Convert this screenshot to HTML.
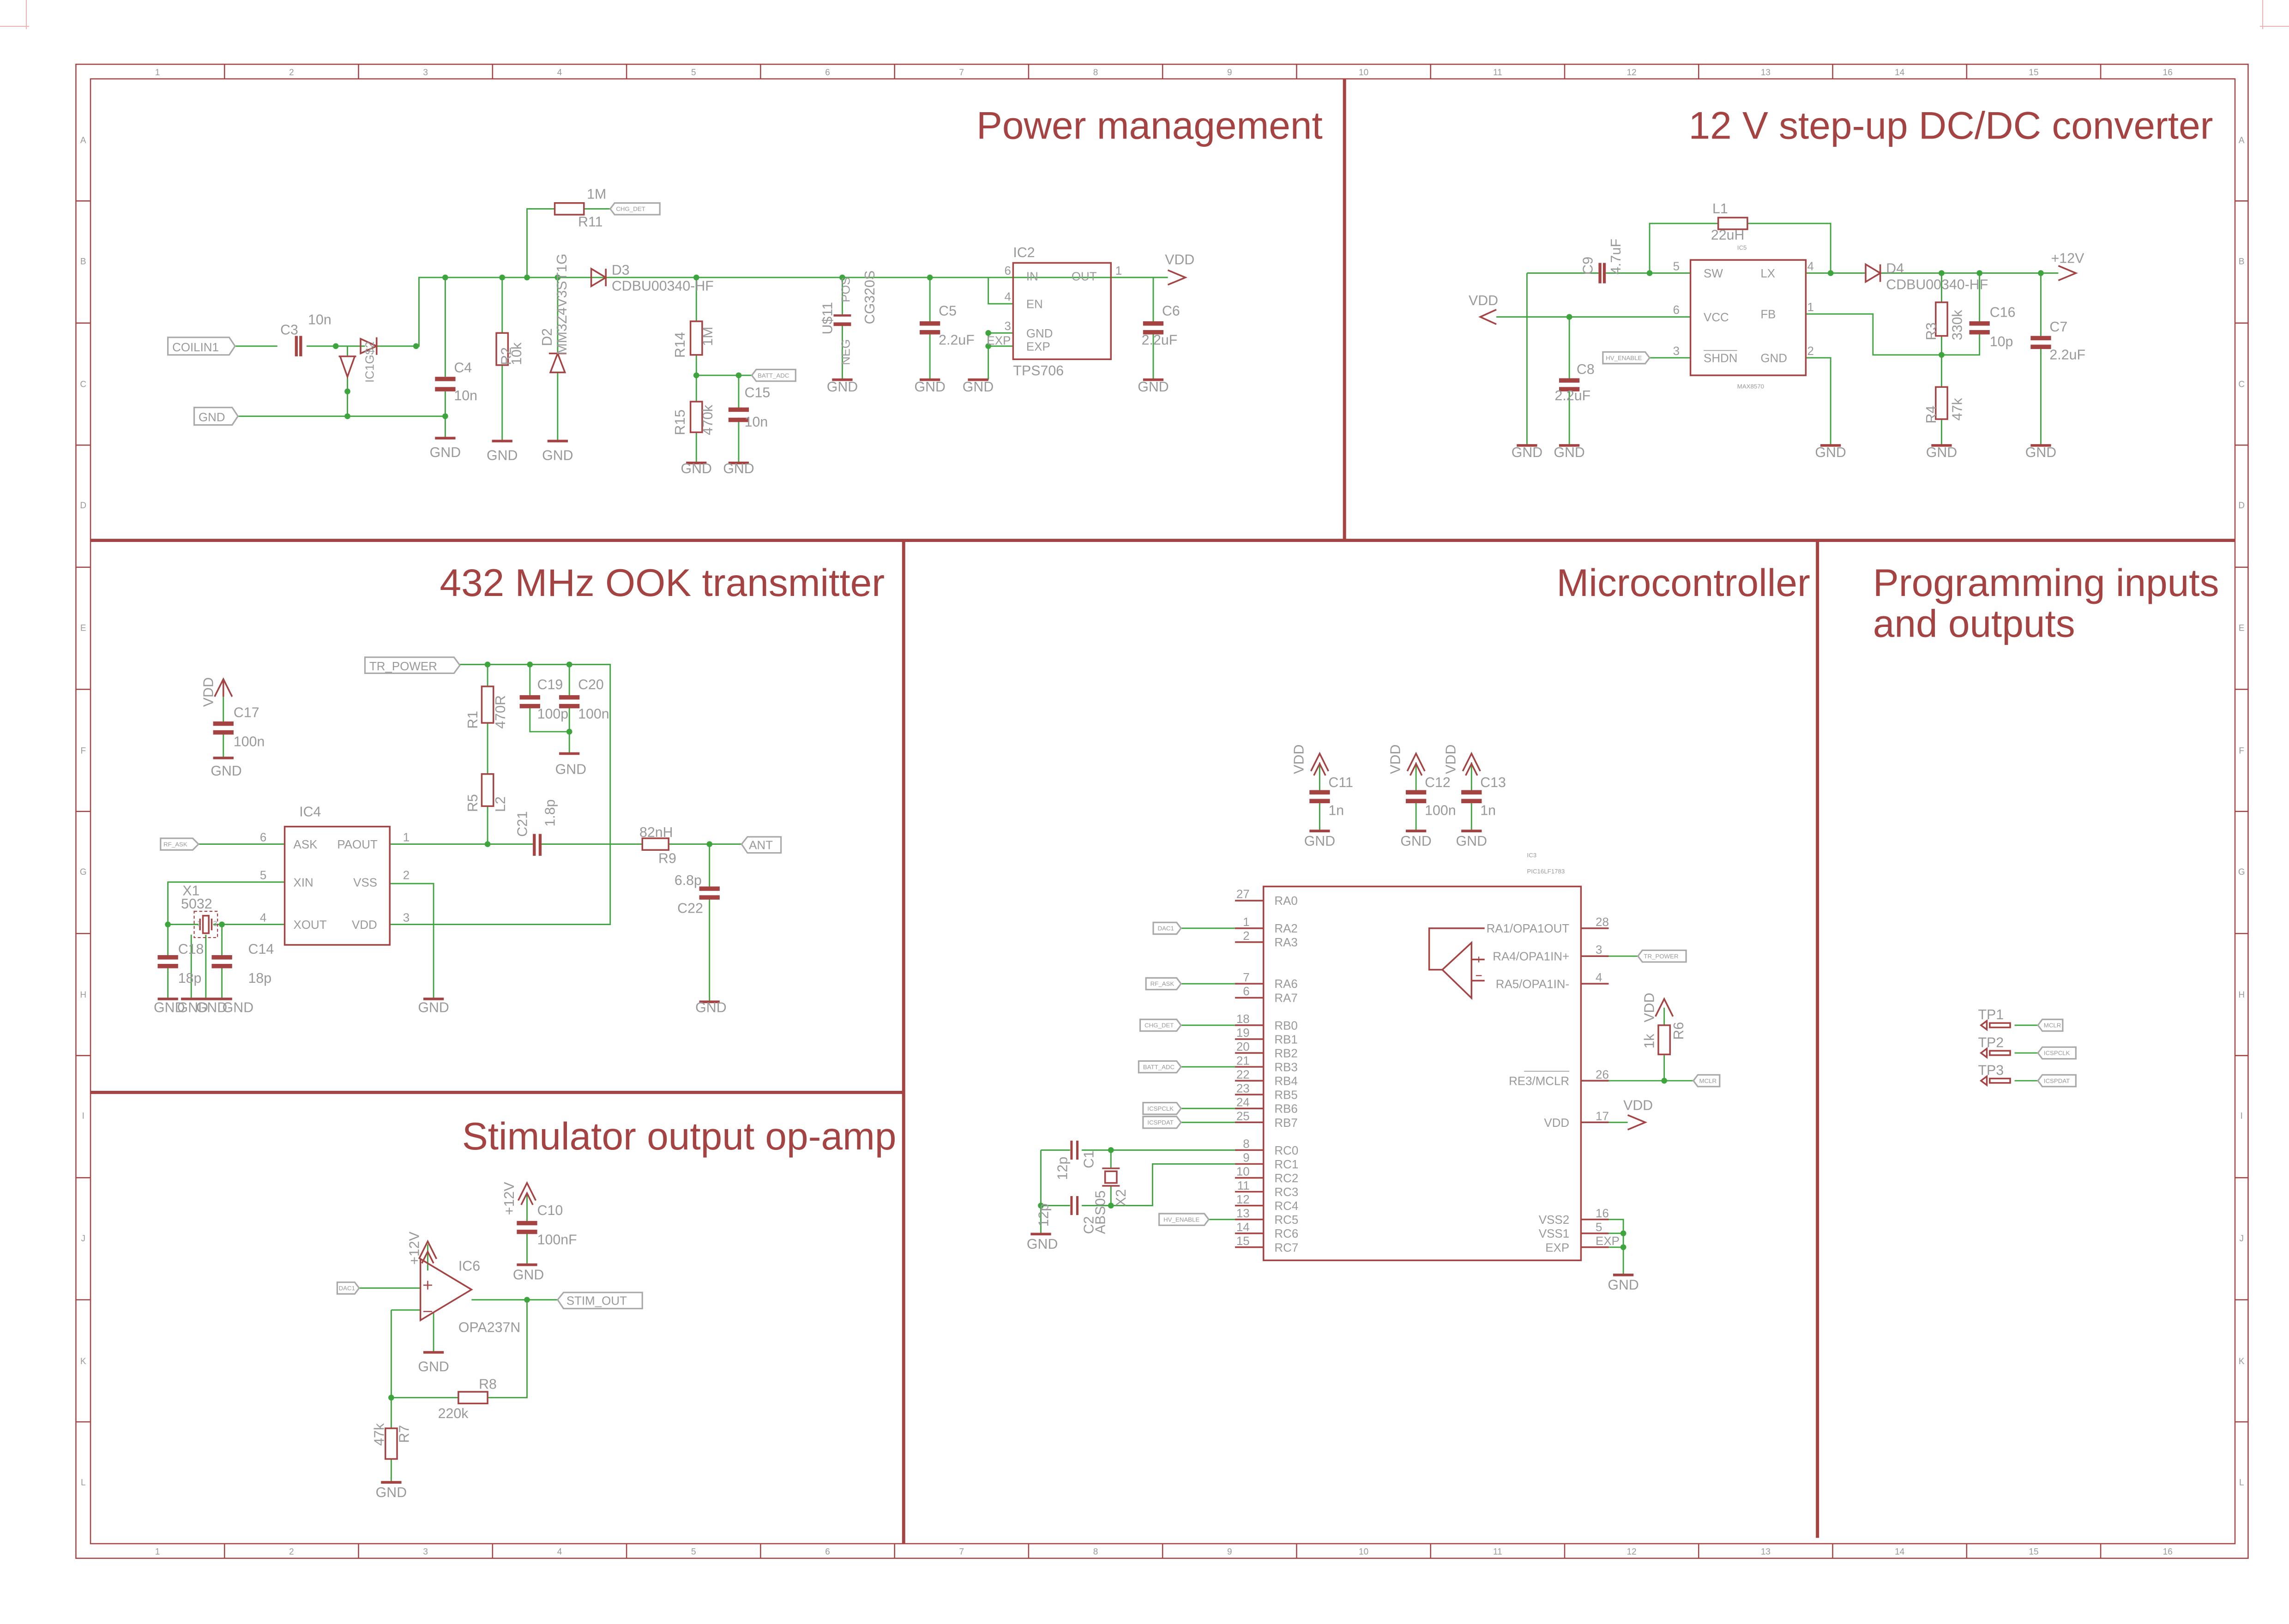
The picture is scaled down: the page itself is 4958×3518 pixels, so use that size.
<!DOCTYPE html>
<html><head><meta charset="utf-8"><style>
html,body{margin:0;padding:0;background:#fff}
svg{display:block}
.w{stroke:#3ea53e;stroke-width:0.9;fill:none}
.p{stroke:#a54343;stroke-width:1.1;fill:none}
.pt{stroke:#a54343;stroke-width:2.2;fill:none}
.fr{stroke:#a54343;stroke-width:0.8;fill:none}
.lb{stroke:#a8a8a8;stroke-width:1;fill:#fff}
.pf{fill:#a54343}
.d{fill:#3ea53e}
text{font-family:"Liberation Sans",sans-serif;fill:#999}
.t{font-size:9.6px}
.s{font-size:4.2px}
.m{font-size:8.2px}
.h{font-size:26.5px;fill:#a54343}
.f{font-size:6px;fill:#a54343}
</style></head><body>
<svg width="4958" height="3518" viewBox="0 0 1568 1112" preserveAspectRatio="none" xmlns="http://www.w3.org/2000/svg">
<rect width="1568" height="1112" fill="#fff"/>
<path d="M0 18H20M18 0V20M1548 18H1568M1550 0V20" stroke="#e8b0b0" stroke-width="0.6"/>
<rect x="52" y="44" width="1488" height="1023" class="fr"/>
<rect x="62" y="54" width="1469" height="1003" class="fr"/>
<g class="fr">
<path d="M153.8 44V54M245.6 44V54M337.4 44V54M429.2 44V54M521 44V54M612.8 44V54M704.6 44V54M796.4 44V54M888.2 44V54M980 44V54M1071.8 44V54M1163.6 44V54M1255.4 44V54M1347.2 44V54M1439 44V54"/>
<path d="M153.8 1057V1067M245.6 1057V1067M337.4 1057V1067M429.2 1057V1067M521 1057V1067M612.8 1057V1067M704.6 1057V1067M796.4 1057V1067M888.2 1057V1067M980 1057V1067M1071.8 1057V1067M1163.6 1057V1067M1255.4 1057V1067M1347.2 1057V1067M1439 1057V1067"/>
<path d="M52 137.6H62M52 221.2H62M52 304.8H62M52 388.4H62M52 472H62M52 555.6H62M52 639.2H62M52 722.8H62M52 806.4H62M52 890H62M52 973.6H62"/>
<path d="M1531 137.6H1540M1531 221.2H1540M1531 304.8H1540M1531 388.4H1540M1531 472H1540M1531 555.6H1540M1531 639.2H1540M1531 722.8H1540M1531 806.4H1540M1531 890H1540M1531 973.6H1540"/>
</g>
<g class="f" text-anchor="middle">
<text x="107.9" y="51.5">1</text><text x="199.7" y="51.5">2</text><text x="291.5" y="51.5">3</text><text x="383.3" y="51.5">4</text><text x="475.1" y="51.5">5</text><text x="566.9" y="51.5">6</text><text x="658.7" y="51.5">7</text><text x="750.5" y="51.5">8</text><text x="842.3" y="51.5">9</text><text x="934.1" y="51.5">10</text><text x="1025.9" y="51.5">11</text><text x="1117.7" y="51.5">12</text><text x="1209.5" y="51.5">13</text><text x="1301.3" y="51.5">14</text><text x="1393.1" y="51.5">15</text><text x="1484.9" y="51.5">16</text>
<text x="107.9" y="1064.5">1</text><text x="199.7" y="1064.5">2</text><text x="291.5" y="1064.5">3</text><text x="383.3" y="1064.5">4</text><text x="475.1" y="1064.5">5</text><text x="566.9" y="1064.5">6</text><text x="658.7" y="1064.5">7</text><text x="750.5" y="1064.5">8</text><text x="842.3" y="1064.5">9</text><text x="934.1" y="1064.5">10</text><text x="1025.9" y="1064.5">11</text><text x="1117.7" y="1064.5">12</text><text x="1209.5" y="1064.5">13</text><text x="1301.3" y="1064.5">14</text><text x="1393.1" y="1064.5">15</text><text x="1484.9" y="1064.5">16</text>
<text x="57" y="98">A</text><text x="57" y="181">B</text><text x="57" y="265">C</text><text x="57" y="348">D</text><text x="57" y="432">E</text><text x="57" y="516">F</text><text x="57" y="599">G</text><text x="57" y="683">H</text><text x="57" y="766">I</text><text x="57" y="850">J</text><text x="57" y="934">K</text><text x="57" y="1017">L</text>
<text x="1535.5" y="98">A</text><text x="1535.5" y="181">B</text><text x="1535.5" y="265">C</text><text x="1535.5" y="348">D</text><text x="1535.5" y="432">E</text><text x="1535.5" y="516">F</text><text x="1535.5" y="599">G</text><text x="1535.5" y="683">H</text><text x="1535.5" y="766">I</text><text x="1535.5" y="850">J</text><text x="1535.5" y="934">K</text><text x="1535.5" y="1017">L</text>
</g>
<path class="pt" d="M62 370H1531M921 54V370M619 370V1057M62 748H619M1245 370V1053"/>
<text class="h" x="906" y="95" text-anchor="end">Power management</text>
<text class="h" x="1516" y="95" text-anchor="end">12 V step-up DC/DC converter</text>
<text class="h" x="606" y="408" text-anchor="end">432 MHz OOK transmitter</text>
<text class="h" x="1240" y="408" text-anchor="end">Microcontroller</text>
<text class="h" x="1283" y="408">Programming inputs</text>
<text class="h" x="1283" y="436">and outputs</text>
<text class="h" x="614" y="787" text-anchor="end">Stimulator output op-amp</text>

<!-- POWER MANAGEMENT -->
<g class="w">
<path d="M160 237H190M210 237H250M258 237H287V190H800"/>
<path d="M238 237V244M238 258V285M163 285H305"/>
<path d="M305 190V258M305 268V300"/>
<path d="M344 190V228M344 250V302"/>
<path d="M361 190V143H380M400 143H418"/>
<path d="M382 190V242M382 255V302"/>
<path d="M477 190V220M477 243V275M477 296V317M477 257H515M506 257V281M506 286V317"/>
<path d="M577 190V216M577 222V260"/>
<path d="M637 190V222M637 227V260"/>
<path d="M677 190V208H694M677 228H694M677 237H694M677 228V260"/>
<path d="M761 190H800M790 190V222M790 227V260"/>
</g>
<g class="d">
<circle cx="230" cy="237" r="2"/><circle cx="285" cy="237" r="2"/><circle cx="238" cy="268" r="2"/><circle cx="238" cy="285" r="2"/><circle cx="305" cy="285" r="2"/>
<circle cx="305" cy="190" r="2"/><circle cx="344" cy="190" r="2"/><circle cx="361" cy="190" r="2"/><circle cx="382" cy="190" r="2"/><circle cx="477" cy="190" r="2"/><circle cx="577" cy="190" r="2"/><circle cx="637" cy="190" r="2"/><circle cx="477" cy="257" r="2"/><circle cx="506" cy="257" r="2"/><circle cx="677" cy="228" r="2"/><circle cx="677" cy="237" r="2"/>
</g>
<path class="lb" d="M115 231H157L161 237L157 243H115Z"/><text class="m" x="118" y="240.5">COILIN1</text>
<path class="lb" d="M133 279H159L163 285L159 291H133Z"/><text class="m" x="136" y="288.5">GND</text>
<path class="lb" d="M418 143L421 139H452V147H421Z"/><text class="s" x="422" y="144.5">CHG_DET</text>
<path class="lb" d="M515 257L518 253H545V261H518Z"/><text class="s" x="519" y="258.5">BATT_ADC</text>
<g class="p">
<path d="M203 230V244M206 230V244" stroke-width="2"/>
<path d="M247 232V242L258 237Z M258 231V243"/>
<path d="M238 258L233 244H243Z M232 244H244"/>
<rect x="340" y="228" width="8" height="22"/>
<rect x="380" y="139" width="20" height="8"/>
<path d="M382 242L377 255H387Z M376 242H388"/>
<path d="M405 184V196L415 190Z M415 184V196"/>
<rect x="473" y="220" width="8" height="23"/>
<rect x="473" y="275" width="8" height="21"/>
<path d="M571 216H583" stroke-width="1.5"/>
<path d="M571 222H583" stroke-width="2.5"/>
<rect x="694" y="180" width="67" height="66"/>
<path d="M800 185L812 190L800 195"/>
</g>
<g class="pf">
<rect x="298" y="258" width="14" height="3"/><rect x="298" y="265" width="14" height="3"/>
<rect x="499" y="279" width="14" height="3"/><rect x="499" y="286" width="14" height="3"/>
<rect x="630" y="220" width="14" height="3"/><rect x="630" y="226" width="14" height="3"/>
<rect x="783" y="220" width="14" height="3"/><rect x="783" y="226" width="14" height="3"/>
</g>
<g class="p">
<path d="M298 300H312M337 302H351M375 302H389M470 317H484M499 317H513M570 260H584M630 260H644M663 260H677M783 260H797" stroke-width="1.8"/>
</g>
<g class="t" text-anchor="middle">
<text x="305" y="313">GND</text><text x="344" y="315">GND</text><text x="382" y="315">GND</text><text x="477" y="324">GND</text><text x="506" y="324">GND</text><text x="577" y="268">GND</text><text x="637" y="268">GND</text><text x="670" y="268">GND</text><text x="790" y="268">GND</text>
</g>
<g class="t">
<text x="192" y="229">C3</text><text x="211" y="222">10n</text>
<text x="311" y="255">C4</text><text x="311" y="274">10n</text>
<text x="402" y="136">1M</text><text x="396" y="155">R11</text>
<text x="419" y="188">D3</text><text x="419" y="199">CDBU00340-HF</text>
<text x="643" y="216">C5</text><text x="643" y="236">2.2uF</text>
<text x="694" y="176">IC2</text><text x="694" y="257">TPS706</text>
<text x="796" y="216">C6</text><text x="782" y="236">2.2uF</text>
<text x="798" y="181">VDD</text>
<text x="510" y="272">C15</text><text x="510" y="292">10n</text>
</g>
<g class="t">
<text transform="translate(350,250) rotate(-90)">R2</text>
<text transform="translate(357,250) rotate(-90)">10k</text>
<text transform="translate(378,237) rotate(-90)">D2</text>
<text transform="translate(388,243) rotate(-90)">MM3Z4V3ST1G</text>
<text transform="translate(469,245) rotate(-90)">R14</text>
<text transform="translate(488,237) rotate(-90)">1M</text>
<text transform="translate(469,298) rotate(-90)">R15</text>
<text transform="translate(488,298) rotate(-90)">470k</text>
<text transform="translate(570,229) rotate(-90)">U$11</text>
<text transform="translate(599,222) rotate(-90)">CG320S</text>
</g>
<g class="m">
<text transform="translate(256,262) rotate(-90)">IC1G$2</text>
<text transform="translate(582,207) rotate(-90)">POS</text>
<text transform="translate(582,250) rotate(-90)">NEG</text>
<text x="703" y="192">IN</text><text x="734" y="192">OUT</text><text x="703" y="211">EN</text><text x="703" y="231">GND</text><text x="703" y="240">EXP</text>
<text x="688" y="188">6</text><text x="688" y="206">4</text><text x="688" y="226">3</text><text x="676" y="236">EXP</text><text x="764" y="188">1</text>
</g>

<!-- 12V CONVERTER -->
<g class="w">
<path d="M1046 187H1095M1100 187H1158M1046 187V305"/>
<path d="M1130 187V153H1177M1197 153H1254V187"/>
<path d="M1237 187H1278M1288 187H1410"/>
<path d="M1025 217H1158M1075 217V261M1075 266V305"/>
<path d="M1130 245H1158M1237 245H1254V305"/>
<path d="M1237 215H1283V243H1356V226M1356 187V222"/>
<path d="M1330 187V207M1330 230V265M1330 287V305"/>
<path d="M1398 187V232M1398 237V305"/>
</g>
<g class="d">
<circle cx="1130" cy="187" r="2"/><circle cx="1254" cy="187" r="2"/><circle cx="1330" cy="187" r="2"/><circle cx="1356" cy="187" r="2"/><circle cx="1398" cy="187" r="2"/><circle cx="1075" cy="217" r="2"/><circle cx="1330" cy="243" r="2"/>
</g>
<path class="lb" d="M1098 241H1127L1130 245L1127 249H1098Z"/><text class="s" x="1100" y="246.5">HV_ENABLE</text>
<g class="p">
<path d="M1096 180V194M1099 180V194" stroke-width="2"/>
<rect x="1177" y="149" width="20" height="8"/>
<path d="M1278 181V193L1288 187Z M1288 181V193"/>
<rect x="1158" y="178" width="79" height="79"/>
<rect x="1326" y="207" width="8" height="23"/>
<rect x="1326" y="265" width="8" height="22"/>
<path d="M1410 182L1422 187L1410 192"/>
<path d="M1025 212L1014 217L1025 222"/>
<path d="M1039 305H1053M1068 305H1082M1247 305H1261M1323 305H1337M1391 305H1405" stroke-width="1.8"/>
</g>
<g class="pf">
<rect x="1068" y="259" width="14" height="3"/><rect x="1068" y="265" width="14" height="3"/>
<rect x="1349" y="220" width="14" height="3"/><rect x="1349" y="226" width="14" height="3"/>
<rect x="1391" y="230" width="14" height="3"/><rect x="1391" y="236" width="14" height="3"/>
</g>
<g class="t" text-anchor="middle">
<text x="1046" y="313">GND</text><text x="1075" y="313">GND</text><text x="1254" y="313">GND</text><text x="1330" y="313">GND</text><text x="1398" y="313">GND</text>
</g>
<g class="t">
<text x="1006" y="209">VDD</text>
<text x="1173" y="146">L1</text><text x="1172" y="164">22uH</text>
<text x="1292" y="187">D4</text><text x="1292" y="198">CDBU00340-HF</text>
<text x="1405" y="180">+12V</text>
<text x="1080" y="256">C8</text><text x="1065" y="274">2.2uF</text>
<text x="1363" y="217">C16</text><text x="1363" y="237">10p</text>
<text x="1404" y="227">C7</text><text x="1404" y="246">2.2uF</text>
<text transform="translate(1091,188) rotate(-90)">C9</text>
<text transform="translate(1110,188) rotate(-90)">4.7uF</text>
<text transform="translate(1326,233) rotate(-90)">R3</text>
<text transform="translate(1344,233) rotate(-90)">330k</text>
<text transform="translate(1326,290) rotate(-90)">R4</text>
<text transform="translate(1344,288) rotate(-90)">47k</text>
</g>
<g class="m">
<text x="1167" y="190">SW</text><text x="1167" y="220">VCC</text><text x="1167" y="248">SHDN</text>
<text x="1206" y="190">LX</text><text x="1206" y="218">FB</text><text x="1206" y="248">GND</text>
<text x="1146" y="185">5</text><text x="1146" y="215">6</text><text x="1146" y="243">3</text>
<text x="1238" y="185">4</text><text x="1238" y="213">1</text><text x="1238" y="243">2</text>
</g>
<path d="M1167 240H1190" stroke="#999" stroke-width="0.5"/>
<text class="s" x="1190" y="171">IC5</text><text class="s" x="1190" y="266">MAX8570</text>

<!-- 432 MHz -->
<g class="w">
<path d="M153 466V496M153 501V519"/>
<path d="M315 455H418V633H267"/>
<path d="M334 455V470M334 495V530M334 552V578"/>
<path d="M363 455V478M363 483V501H390M390 455V478M390 483V516"/>
<path d="M136 578H195M267 578H366M370 578H440M458 578H508M486 578V609M486 614V686"/>
<path d="M195 604H115V633H136M146 633H195M115 633V656M115 661V684"/>
<path d="M152 633V656M152 661V684M267 605H297V684"/>
<path d="M141 640V684M131 640V684"/>
</g>
<g class="d">
<circle cx="334" cy="455" r="2"/><circle cx="363" cy="455" r="2"/><circle cx="390" cy="455" r="2"/><circle cx="390" cy="501" r="2"/><circle cx="334" cy="578" r="2"/><circle cx="486" cy="578" r="2"/><circle cx="115" cy="633" r="2"/><circle cx="152" cy="633" r="2"/>
</g>
<path class="lb" d="M250 450H311L315 455.5L311 461H250Z"/><text class="m" x="253" y="459">TR_POWER</text>
<path class="lb" d="M110 574H132L136 578L132 582H110Z"/><text class="s" x="112" y="579.5">RF_ASK</text>
<path class="lb" d="M508 578L512 573H535V584H512Z"/><text class="m" x="513" y="581.5">ANT</text>
<g class="p">
<path d="M147 477L153 465L159 477M153 465V477"/>
<rect x="330" y="470" width="8" height="25"/>
<rect x="330" y="530" width="8" height="22"/>
<path d="M366 571V586M370 571V586" stroke-width="2"/>
<rect x="440" y="574" width="18" height="8"/>
<rect x="195" y="566" width="72" height="81"/>
<path d="M137 629V637M145 629V637" />
<rect x="139" y="627" width="4" height="12"/>
<rect x="133" y="624" width="16" height="18" stroke-dasharray="2,1.5" stroke-width="0.7"/>
<path d="M146 519H160M383 516H397M108 684H122M124 684H138M134 684H148M145 684H159M290 684H304M479 686H493" stroke-width="1.8"/>
</g>
<g class="pf">
<rect x="146" y="494" width="14" height="3"/><rect x="146" y="500" width="14" height="3"/>
<rect x="356" y="476" width="14" height="3"/><rect x="356" y="482" width="14" height="3"/>
<rect x="383" y="476" width="14" height="3"/><rect x="383" y="482" width="14" height="3"/>
<rect x="479" y="607" width="14" height="3"/><rect x="479" y="613" width="14" height="3"/>
<rect x="108" y="654" width="14" height="3"/><rect x="108" y="660" width="14" height="3"/>
<rect x="145" y="654" width="14" height="3"/><rect x="145" y="660" width="14" height="3"/>
</g>
<g class="t" text-anchor="middle">
<text x="155" y="531">GND</text><text x="391" y="530">GND</text><text x="297" y="693">GND</text><text x="487" y="693">GND</text>
<text x="116" y="693">GND</text><text x="132" y="693">GND</text><text x="145" y="693">GND</text><text x="163" y="693">GND</text>
</g>
<g class="t">
<text transform="translate(146,484) rotate(-90)">VDD</text>
<text x="160" y="491">C17</text><text x="160" y="511">100n</text>
<text x="368" y="472">C19</text><text x="368" y="492">100p</text>
<text x="396" y="472">C20</text><text x="396" y="492">100n</text>
<text transform="translate(327,499) rotate(-90)">R1</text>
<text transform="translate(346,499) rotate(-90)">470R</text>
<text transform="translate(327,556) rotate(-90)">R5</text>
<text transform="translate(346,556) rotate(-90)">L2</text>
<text transform="translate(361,573) rotate(-90)">C21</text>
<text transform="translate(380,566) rotate(-90)">1.8p</text>
<text x="438" y="573">82nH</text><text x="451" y="591">R9</text>
<text x="462" y="606">6.8p</text><text x="464" y="625">C22</text>
<text x="205" y="559">IC4</text>
<text x="125" y="613">X1</text><text x="124" y="622">5032</text>
<text x="122" y="653">C18</text><text x="122" y="673">18p</text>
<text x="170" y="653">C14</text><text x="170" y="673">18p</text>
</g>
<g class="m">
<text x="201" y="581">ASK</text><text x="231" y="581">PAOUT</text>
<text x="201" y="607">XIN</text><text x="242" y="607">VSS</text>
<text x="201" y="636">XOUT</text><text x="241" y="636">VDD</text>
<text x="178" y="576">6</text><text x="178" y="602">5</text><text x="178" y="631">4</text>
<text x="276" y="576">1</text><text x="276" y="602">2</text><text x="276" y="631">3</text>
<text x="135" y="634" font-size="5">1</text><text x="146" y="634" font-size="5">3</text>
</g>

<!-- STIMULATOR -->
<g class="w">
<path d="M246 882H288M268 897H288M268 897V957H314M334 957H361V890M323 890H382"/>
<path d="M268 957V978M268 999V1015"/>
<path d="M293 852V870M297 899V926"/>
<path d="M361 818V838M361 843V866"/>
</g>
<g class="d"><circle cx="361" cy="890" r="2"/><circle cx="268" cy="957" r="2"/></g>
<path class="lb" d="M231 878H243L246 882L243 886H231Z"/><text class="s" x="232" y="883.5">DAC1</text>
<path class="lb" d="M382 890L386 885H440V896H386Z"/><text class="m" x="388" y="893.5">STIM_OUT</text>
<g class="p">
<path d="M288 862L323 883L288 904Z"/>
<path d="M290 880H296M293 877V883M290 898H296" stroke-width="0.8"/>
<rect x="314" y="953" width="20" height="8"/>
<rect x="264" y="978" width="8" height="21"/>
<path d="M287 862L293 850L299 862M289 865L293 857L297 865"/>
<path d="M355 822L361 810L367 822M357 825L361 817L365 825"/>
<path d="M290 926H304M354 866H368M261 1015H275" stroke-width="1.8"/>
</g>
<g class="pf">
<rect x="354" y="836" width="14" height="3"/><rect x="354" y="842" width="14" height="3"/>
</g>
<g class="t" text-anchor="middle">
<text x="297" y="939">GND</text><text x="362" y="876">GND</text><text x="268" y="1025">GND</text>
</g>
<g class="t">
<text transform="translate(287,866) rotate(-90)">+12V</text>
<text transform="translate(352,832) rotate(-90)">+12V</text>
<text x="314" y="870">IC6</text><text x="314" y="912">OPA237N</text>
<text x="368" y="832">C10</text><text x="368" y="852">100nF</text>
<text x="328" y="951">R8</text><text x="300" y="971">220k</text>
<text transform="translate(263,990) rotate(-90)">47k</text>
<text transform="translate(280,988) rotate(-90)">R7</text>
</g>

<!-- MICROCONTROLLER -->
<g class="w">
<path d="M904 522V543M904 548V569M970 522V543M970 548V569M1008 522V543M1008 548V569"/>
<path d="M809 635.6H846M809 673.6H846M809 702H846M809 730.5H846M809 759H846M809 768.5H846M828 835H846"/>
<path d="M761 787.5H846M846 797H789.5V825.5H761M761 787.5V800M761 812V825.5"/>
<path d="M713 787.5H733M741 787.5H761M713 825.5H733M741 825.5H761M713 787.5V845"/>
<path d="M1102 654.7H1122M1102 740H1160M1140 740V722M1140 702V690"/>
<path d="M1102 768.5H1115M1102 835H1112V873M1102 844.5H1112M1102 854H1112"/>
<path d="M1380 702H1396M1380 721H1396M1380 740H1396"/>
</g>
<g class="d">
<circle cx="761" cy="787.5" r="2"/><circle cx="761" cy="825.5" r="2"/><circle cx="713" cy="825.5" r="2"/><circle cx="1140" cy="740" r="2"/><circle cx="1112" cy="844.5" r="2"/><circle cx="1112" cy="854" r="2"/>
</g>
<g class="p">
<path d="M898 528L904 516L910 528M900 531L904 523L908 531"/>
<path d="M964 528L970 516L976 528M966 531L970 523L974 531"/>
<path d="M1002 528L1008 516L1014 528M1004 531L1008 523L1012 531"/>
<path d="M1134 696L1140 684L1146 696"/>
<path d="M1115 763.5L1127 768.5L1115 773.5"/>
<path d="M897 569H911M963 569H977M1001 569H1015M706 845H720M1105 873H1119" stroke-width="1.8"/>
<rect x="865.5" y="607" width="217.5" height="256"/>
<path d="M846 616.7H865.5M846 635.6H865.5M846 645.1H865.5M846 673.6H865.5M846 683.2H865.5M846 702H865.5M846 711.5H865.5M846 721H865.5M846 730.5H865.5M846 740H865.5M846 749.5H865.5M846 759H865.5M846 768.5H865.5M846 787.5H865.5M846 797H865.5M846 806.5H865.5M846 816H865.5M846 825.5H865.5M846 835H865.5M846 844.5H865.5M846 854H865.5"/>
<path d="M1083 635.6H1102M1083 654.7H1102M1083 673.6H1102M1083 740H1102M1083 768.5H1102M1083 835H1102M1083 844.5H1102M1083 854H1102"/>
<path d="M988 664L1008 645.5V683.4Z M988 664H979V635.6H1017 M1008 657H1017M1008 671.5H1017"/>
<path d="M1011 657H1015M1013 655V659M1011 668H1015" stroke-width="0.7"/>
<rect x="1136" y="702" width="8" height="20"/>
<path d="M734 781V794M738 781V794M734 819V832M738 819V832" stroke-width="1.6"/>
<path d="M755 800H767M755 812H767"/><rect x="757" y="802" width="8" height="8"/>
</g>
<g class="pf">
<rect x="897" y="541" width="14" height="3"/><rect x="897" y="547" width="14" height="3"/>
<rect x="963" y="541" width="14" height="3"/><rect x="963" y="547" width="14" height="3"/>
<rect x="1001" y="541" width="14" height="3"/><rect x="1001" y="547" width="14" height="3"/>
</g>
<g class="lb">
<path d="M790 631.6H806L809 635.6L806 639.6H790Z"/>
<path d="M785 669.6H806L809 673.6L806 677.6H785Z"/>
<path d="M781 698H806L809 702L806 706H781Z"/>
<path d="M780 726.5H806L809 730.5L806 734.5H780Z"/>
<path d="M783 755H806L809 759L806 763H783Z"/>
<path d="M783 764.5H806L809 768.5L806 772.5H783Z"/>
<path d="M794 831H825L828 835L825 839H794Z"/>
<path d="M1122 654.7L1125 650.7H1155V658.7H1125Z"/>
<path d="M1160 740L1163 736H1178V744H1163Z"/>
<path d="M1396 702L1399 698H1413V706H1399Z"/>
<path d="M1396 721L1399 717H1422V725H1399Z"/>
<path d="M1396 740L1399 736H1422V744H1399Z"/>
</g>
<g class="s">
<text x="793" y="637">DAC1</text><text x="788" y="675">RF_ASK</text><text x="784" y="703.5">CHG_DET</text><text x="783" y="732">BATT_ADC</text>
<text x="786" y="760.5">ICSPCLK</text><text x="786" y="770">ICSPDAT</text><text x="797" y="836.5">HV_ENABLE</text>
<text x="1126" y="656.2">TR_POWER</text><text x="1164" y="741.5">MCLR</text>
<text x="1400" y="703.5">MCLR</text><text x="1400" y="722.5">ICSPCLK</text><text x="1400" y="741.5">ICSPDAT</text>
</g>
<g class="t" text-anchor="middle">
<text x="904" y="579">GND</text><text x="970" y="579">GND</text><text x="1008" y="579">GND</text><text x="714" y="855">GND</text><text x="1112" y="883">GND</text>
</g>
<g class="t">
<text transform="translate(893,530) rotate(-90)">VDD</text>
<text transform="translate(959,530) rotate(-90)">VDD</text>
<text transform="translate(997,530) rotate(-90)">VDD</text>
<text x="910" y="539">C11</text><text x="910" y="558">1n</text>
<text x="976" y="539">C12</text><text x="976" y="558">100n</text>
<text x="1014" y="539">C13</text><text x="1014" y="558">1n</text>
<text transform="translate(1133,700) rotate(-90)">VDD</text>
<text transform="translate(1133,718) rotate(-90)">1k</text>
<text transform="translate(1153,712) rotate(-90)">R6</text>
<text x="1112" y="760">VDD</text>
<text transform="translate(731,808) rotate(-90)">12p</text>
<text transform="translate(749,800) rotate(-90)">C1</text>
<text transform="translate(718,840) rotate(-90)">12p</text>
<text transform="translate(749,845) rotate(-90)">C2</text>
<text transform="translate(757,845) rotate(-90)">ABS05</text>
<text transform="translate(771,826) rotate(-90)">X2</text>
<text x="1355" y="698">TP1</text><text x="1355" y="717">TP2</text><text x="1355" y="736">TP3</text>
</g>
<text class="s" x="1046" y="587" font-size="5.5">IC3</text>
<text class="s" x="1046" y="598" font-size="5.5">PIC16LF1783</text>
<g class="m">
<text x="873" y="619.5">RA0</text><text x="873" y="638.5">RA2</text><text x="873" y="648">RA3</text><text x="873" y="676.5">RA6</text><text x="873" y="686">RA7</text>
<text x="873" y="705">RB0</text><text x="873" y="714.5">RB1</text><text x="873" y="724">RB2</text><text x="873" y="733.5">RB3</text><text x="873" y="743">RB4</text><text x="873" y="752.5">RB5</text><text x="873" y="762">RB6</text><text x="873" y="771.5">RB7</text>
<text x="873" y="790.5">RC0</text><text x="873" y="800">RC1</text><text x="873" y="809.5">RC2</text><text x="873" y="819">RC3</text><text x="873" y="828.5">RC4</text><text x="873" y="838">RC5</text><text x="873" y="847.5">RC6</text><text x="873" y="857">RC7</text>
</g>
<g class="m" text-anchor="end">
<text x="1075" y="638.5">RA1/OPA1OUT</text><text x="1075" y="657.7">RA4/OPA1IN+</text><text x="1075" y="676.6">RA5/OPA1IN-</text>
<text x="1075" y="743">RE3/MCLR</text><text x="1075" y="771.5">VDD</text>
<text x="1075" y="838">VSS2</text><text x="1075" y="847.5">VSS1</text><text x="1075" y="857">EXP</text>
<text x="856" y="615">27</text><text x="856" y="634">1</text><text x="856" y="643.5">2</text><text x="856" y="672">7</text><text x="856" y="681.5">6</text>
<text x="856" y="700.5">18</text><text x="856" y="710">19</text><text x="856" y="719.5">20</text><text x="856" y="729">21</text><text x="856" y="738.5">22</text><text x="856" y="748">23</text><text x="856" y="757.5">24</text><text x="856" y="767">25</text>
<text x="856" y="786">8</text><text x="856" y="795.5">9</text><text x="856" y="805">10</text><text x="856" y="814.5">11</text><text x="856" y="824">12</text><text x="856" y="833.5">13</text><text x="856" y="843">14</text><text x="856" y="852.5">15</text>
</g>
<g class="m">
<text x="1093" y="634">28</text><text x="1093" y="653">3</text><text x="1093" y="672">4</text><text x="1093" y="738.5">26</text><text x="1093" y="767">17</text>
<text x="1093" y="833.5">16</text><text x="1093" y="843">5</text><text x="1093" y="852.5">EXP</text>
</g>
<path d="M1044 733.5H1075" stroke="#999" stroke-width="0.5"/>
<g class="p">
<path d="M1357 702L1361 699V705Z M1357 721L1361 718V724Z M1357 740L1361 737V743Z"/>
<rect x="1363" y="700.5" width="14" height="3"/><rect x="1363" y="719.5" width="14" height="3"/><rect x="1363" y="738.5" width="14" height="3"/>
</g>
</svg>
</body></html>
